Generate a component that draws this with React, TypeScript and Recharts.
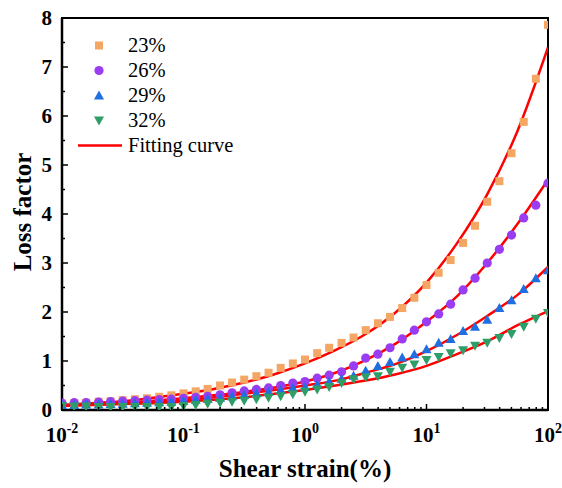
import {
  ComposedChart,
  Legend,
  Line,
  ReferenceArea,
  Scatter,
  XAxis,
  YAxis,
} from "recharts";

const FONT = '"Liberation Serif", "Times New Roman", serif';

// shear strain (%) of the measured points, 10 per decade
const strain = [
  0.01, 0.0126, 0.0158, 0.02, 0.0251, 0.0316, 0.0398, 0.0501, 0.0631, 0.0794,
  0.1, 0.126, 0.158, 0.2, 0.251, 0.316, 0.398, 0.501, 0.631, 0.794,
  1, 1.26, 1.58, 2, 2.51, 3.16, 3.98, 5.01, 6.31, 7.94,
  10, 12.6, 15.8, 20, 25.1, 31.6, 39.8, 50.1, 63.1, 79.4,
  100,
];

const loss23 = [
  0.13, 0.14, 0.15, 0.17, 0.18, 0.2, 0.22, 0.24, 0.27, 0.3,
  0.34, 0.38, 0.43, 0.5, 0.56, 0.62, 0.69, 0.76, 0.86, 0.95,
  1.03, 1.16, 1.27, 1.37, 1.48, 1.63, 1.77, 1.9, 2.08, 2.29,
  2.55, 2.8, 3.06, 3.41, 3.76, 4.25, 4.67, 5.24, 5.88, 6.76,
  7.86,
];
const loss26 = [
  0.14, 0.15, 0.15, 0.16, 0.17, 0.18, 0.19, 0.2, 0.21, 0.22,
  0.24, 0.26, 0.28, 0.31, 0.35, 0.39, 0.42, 0.45, 0.5, 0.55,
  0.58, 0.65, 0.71, 0.78, 0.9, 1.06, 1.14, 1.27, 1.45, 1.63,
  1.8, 1.96, 2.16, 2.45, 2.69, 3.0, 3.28, 3.57, 3.92, 4.18,
  4.63,
];
const loss29 = [
  0.1, 0.1, 0.11, 0.11, 0.12, 0.13, 0.14, 0.15, 0.16, 0.17,
  0.19, 0.21, 0.23, 0.25, 0.28, 0.31, 0.34, 0.37, 0.41, 0.45,
  0.47, 0.52, 0.58, 0.64, 0.7, 0.8, 0.9, 0.98, 1.07, 1.14,
  1.24, 1.37, 1.45, 1.61, 1.7, 1.84, 2.08, 2.24, 2.47, 2.69,
  2.85,
];
const loss32 = [
  0.08, 0.07, 0.07, 0.06, 0.06, 0.06, 0.06, 0.06, 0.06, 0.06,
  0.08, 0.1, 0.13, 0.15, 0.17, 0.19, 0.22, 0.25, 0.28, 0.32,
  0.37, 0.42, 0.47, 0.55, 0.63, 0.67, 0.69, 0.78, 0.86, 0.93,
  1.02, 1.08, 1.16, 1.22, 1.31, 1.37, 1.47, 1.55, 1.7, 1.86,
  1.98,
];

// fitting curves, read every quarter decade
const fitStrain = [
  0.01, 0.0178, 0.0316, 0.0562, 0.1, 0.178, 0.316, 0.562, 1, 1.78, 3.16,
  5.62, 10, 17.8, 31.6, 56.2, 100,
];
const fit23 = [
  0.1, 0.14, 0.18, 0.25, 0.33, 0.43, 0.56, 0.73, 0.95, 1.22, 1.55, 2.0,
  2.6, 3.4, 4.4, 5.7, 7.4,
];
const fit26 = [
  0.09, 0.12, 0.15, 0.19, 0.24, 0.3, 0.37, 0.46, 0.58, 0.76, 1.02, 1.36,
  1.8, 2.32, 3.0, 3.8, 4.7,
];
const fit29 = [
  0.09, 0.11, 0.14, 0.17, 0.2, 0.26, 0.33, 0.41, 0.5, 0.6, 0.76, 0.94,
  1.2, 1.53, 1.92, 2.35, 2.92,
];
const fit32 = [
  0.08, 0.1, 0.12, 0.14, 0.17, 0.21, 0.26, 0.33, 0.41, 0.5, 0.6, 0.73,
  0.9, 1.14, 1.4, 1.73, 2.02,
];

const xTicks = [
  0.01, 0.02, 0.03, 0.04, 0.05, 0.06, 0.07, 0.08, 0.09,
  0.1, 0.2, 0.3, 0.4, 0.5, 0.6, 0.7, 0.8, 0.9,
  1, 2, 3, 4, 5, 6, 7, 8, 9,
  10, 20, 30, 40, 50, 60, 70, 80, 90,
  100,
];
const yTicks = [0, 0.5, 1, 1.5, 2, 2.5, 3, 3.5, 4, 4.5, 5, 5.5, 6, 6.5, 7, 7.5, 8];

const seriesNames = ["23%", "26%", "29%", "32%"];
const seriesColors = ["#F4A664", "#9A3CF2", "#1F6FE0", "#2E9E68"];
const fitName = "Fitting curve";

const toPoints = (xs: number[], ys: number[]) =>
  xs.map((x, i) => ({ x, y: ys[i] }));

type Kind = "square" | "circle" | "up" | "down";
const kinds: Kind[] = ["square", "circle", "up", "down"];

function Marker({ kind, cx, cy, fill }: { kind: Kind; cx: number; cy: number; fill: string }) {
  if (kind === "square")
    return <rect x={cx - 4} y={cy - 4} width={8} height={8} fill={fill} />;
  if (kind === "circle") return <circle cx={cx} cy={cy} r={4.6} fill={fill} />;
  if (kind === "up")
    return (
      <polygon
        points={`${cx - 5},${cy + 4} ${cx + 5},${cy + 4} ${cx},${cy - 5}`}
        fill={fill}
      />
    );
  return (
    <polygon
      points={`${cx - 5},${cy - 4} ${cx + 5},${cy - 4} ${cx},${cy + 5}`}
      fill={fill}
    />
  );
}

const shapeOf = (kind: Kind) => (p: any) =>
  <Marker kind={kind} cx={p.cx} cy={p.cy} fill={p.fill} />;

function XTick({ x, y, payload }: any) {
  const lg = Math.log10(payload.value);
  const exp = Math.round(lg);
  const major = Math.abs(lg - exp) < 1e-6;
  return (
    <g>
      <line x1={x} x2={x} y1={y} y2={y - (major ? 6 : 3)} stroke="#000" strokeWidth={1.5} />
      {major && (
        <text
          x={x}
          y={y + 32}
          textAnchor="middle"
          fontFamily={FONT}
          fontWeight="bold"
          fontSize={21}
          fill="#000"
        >
          10
          <tspan dy={-9} fontSize={14}>
            {String(exp)}
          </tspan>
        </text>
      )}
    </g>
  );
}

function YTick({ x, y, payload }: any) {
  const major = Number.isInteger(payload.value);
  return (
    <g>
      <line x1={x} x2={x + (major ? 6 : 3)} y1={y} y2={y} stroke="#000" strokeWidth={1.5} />
      {major && (
        <text
          x={x - 10}
          y={y + 7}
          textAnchor="end"
          fontFamily={FONT}
          fontWeight="bold"
          fontSize={21}
          fill="#000"
        >
          {payload.value}
        </text>
      )}
    </g>
  );
}

function LegendBox() {
  return (
    <div style={{ fontFamily: FONT, fontSize: 20.5, color: "#000" }}>
      {seriesNames.map((name, i) => (
        <div key={name} style={{ display: "flex", alignItems: "center", height: 25 }}>
          <svg width={52} height={25}>
            <Marker kind={kinds[i]} cx={23} cy={12.5} fill={seriesColors[i]} />
          </svg>
          <span>{name}</span>
        </div>
      ))}
      <div style={{ display: "flex", alignItems: "center", height: 25 }}>
        <svg width={52} height={25}>
          <line x1={2} x2={46} y1={12.5} y2={12.5} stroke="#FF0000" strokeWidth={2.5} />
        </svg>
        <span>{fitName}</span>
      </div>
    </div>
  );
}

export default function App() {
  const measured = [loss23, loss26, loss29, loss32].map((ys) => toPoints(strain, ys));
  const fits = [fit23, fit26, fit29, fit32].map((ys) => toPoints(fitStrain, ys));

  return (
    <div style={{ position: "absolute", left: 0, top: 0, background: "#fff" }}>
      <ComposedChart
        width={562}
        height={488}
        margin={{ top: 18, right: 14, bottom: 0, left: 0 }}
      >
        <XAxis
          dataKey="x"
          type="number"
          scale="log"
          domain={[0.01, 100]}
          ticks={xTicks}
          interval={0}
          allowDataOverflow
          height={78}
          tickSize={0}
          tickMargin={0}
          tickLine={false}
          tick={<XTick />}
          axisLine={{ stroke: "#000", strokeWidth: 2.5 }}
          label={() => (
            <text
              x={305}
              y={477}
              textAnchor="middle"
              fontFamily={FONT}
              fontWeight="bold"
              fontSize={25}
              fill="#000"
            >
              Shear strain(%)
            </text>
          )}
        />
        <YAxis
          dataKey="y"
          type="number"
          domain={[0, 8]}
          ticks={yTicks}
          interval={0}
          allowDataOverflow
          width={62}
          tickSize={0}
          tickMargin={0}
          tickLine={false}
          tick={<YTick />}
          axisLine={{ stroke: "#000", strokeWidth: 2.5 }}
          label={() => (
            <text
              x={31}
              y={212}
              transform="rotate(-90, 31, 212)"
              textAnchor="middle"
              fontFamily={FONT}
              fontWeight="bold"
              fontSize={25}
              fill="#000"
            >
              Loss factor
            </text>
          )}
        />
        <ReferenceArea
          x1={0.01}
          x2={100}
          y1={0}
          y2={8}
          fill="none"
          stroke="#000"
          strokeWidth={2}
        />
        {measured.map((pts, i) => (
          <Scatter
            key={seriesNames[i]}
            name={seriesNames[i]}
            data={pts}
            dataKey="y"
            fill={seriesColors[i]}
            shape={shapeOf(kinds[i])}
            isAnimationActive={false}
          />
        ))}
        {fits.map((pts, i) => (
          <Line
            key={"fit" + i}
            data={pts}
            dataKey="y"
            type="monotone"
            stroke="#FF0000"
            strokeWidth={2.5}
            dot={false}
            activeDot={false}
            legendType="none"
            isAnimationActive={false}
          />
        ))}
        <Legend
          verticalAlign="middle"
          align="center"
          layout="vertical"
          content={<LegendBox />}
          wrapperStyle={{ left: 76, top: 33, width: "auto", height: "auto" }}
        />
      </ComposedChart>
    </div>
  );
}
